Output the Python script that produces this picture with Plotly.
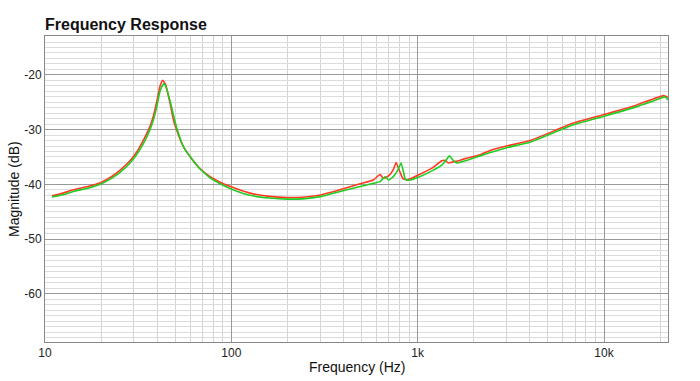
import plotly.graph_objects as go

# Red trace (frequency in Hz, magnitude in dB)
red_freq = [10.9, 12.5, 14.2, 17, 20.1, 22.5, 25.3, 28.6, 31.7, 34.5, 36.6, 38.1, 39.8, 41.4, 42.8,
            44.3, 46.9, 48.9, 50.9, 55.3, 60.0, 67.9, 76.9, 87.0, 100.5, 126, 160, 201, 250, 305,
            383, 491, 578, 628, 655, 700, 740, 766, 800, 832, 873, 910, 1009,
            1200, 1346, 1400, 1462, 1600, 1800, 2163, 2450, 3000, 4010, 6855, 10140, 15000, 20840, 22050]
red_db = [-42.1, -41.6, -41.0, -40.4, -39.6, -38.7, -37.4, -35.7, -33.6, -31.3, -29.4, -27.6, -24.9, -22.1, -21.0,
          -21.7, -25.2, -28.2, -30.1, -33.1, -34.9, -37.1, -38.6, -39.6, -40.5, -41.6, -42.2, -42.4, -42.3, -41.9,
          -41.0, -39.9, -39.2, -38.2, -38.9, -38.4, -37.3, -36.0, -37.6, -38.9, -39.2, -39.0, -38.3,
          -37.0, -35.7, -35.6, -36.1, -35.8, -35.3, -34.6, -33.8, -33.0, -32.0, -28.8, -27.2, -25.5, -23.8, -24.1]

# Green trace
green_freq = [10.9, 12.5, 14.2, 17, 20.1, 22.5, 25.3, 28.6, 31.7, 34.5, 36.6, 38.1, 39.8, 41.4, 42.8,
              43.6, 45.0, 47.4, 49.5, 51.5, 55.3, 60.0, 67.9, 76.9, 87.0, 100.5, 126, 160, 201, 250, 305,
              383, 491, 578, 628, 668, 697, 740, 780, 815, 840, 855, 873, 910, 1009,
              1200, 1346, 1420, 1480, 1550, 1622, 1800, 2163, 2450, 3000, 4010, 6855, 10140, 15000, 20840, 21300, 22050]
green_db = [-42.3, -41.9, -41.3, -40.7, -39.9, -39.0, -37.8, -36.1, -34.1, -31.9, -30.0, -28.3, -25.8, -23.0, -21.9,
            -21.6, -22.6, -25.4, -28.1, -30.2, -33.1, -34.9, -37.2, -38.8, -39.9, -40.9, -42.0, -42.5, -42.7, -42.6, -42.2,
            -41.3, -40.4, -39.8, -39.5, -38.6, -39.2, -38.6, -37.5, -36.1, -37.8, -38.9, -39.2, -39.2, -38.7,
            -37.5, -36.5, -35.6, -34.8, -35.6, -36.1, -35.7, -34.8, -34.2, -33.3, -32.3, -29.1, -27.5, -25.8, -24.1, -24.0, -24.6]

x_tickvals = [10, 100, 1000, 10000]
x_ticktext = ["10", "100", "1k", "10k"]
y_tickvals = [-20, -30, -40, -50, -60]
y_ticktext = ["-20", "-30", "-40", "-50", "-60"]

x_minor = [m * 10 ** d for d in range(1, 5) for m in range(2, 10) if m * 10 ** d <= 22050]

fig = go.Figure()
fig.add_trace(go.Scatter(x=red_freq, y=red_db, mode="lines",
                         line=dict(color="#ff3a22", width=1.6, shape="spline", smoothing=0.4),
                         showlegend=False, hoverinfo="skip"))
fig.add_trace(go.Scatter(x=green_freq, y=green_db, mode="lines",
                         line=dict(color="#22cc22", width=1.6, shape="spline", smoothing=0.4),
                         showlegend=False, hoverinfo="skip"))

font_family = "Liberation Sans, Arial, sans-serif"
L, R, T, B = 45, 32, 36, 39
plot_w = 700 - L - R
plot_h = 381 - T - B

fig.update_layout(
    width=700, height=381,
    margin=dict(l=L, r=R, t=T, b=B, autoexpand=False),
    paper_bgcolor="white", plot_bgcolor="white",
    font=dict(family=font_family, size=12, color="#222"),
    title=dict(text="<b>Frequency Response</b>", x=45 / 700, xanchor="left",
               y=1 - 24 / 381, yanchor="middle", yref="container",
               font=dict(size=16, color="#111", family=font_family)),
    xaxis=dict(
        type="log", range=[1, 4.3434], automargin=False,
        tickmode="array", tickvals=x_tickvals, ticktext=x_ticktext,
        showgrid=True, gridcolor="#999", gridwidth=1,
        minor=dict(tickmode="array", tickvals=x_minor, showgrid=True, gridcolor="#d4d4d4", gridwidth=1),
        showline=True, linecolor="#888", linewidth=1, mirror=True,
        ticks="", zeroline=False,
        tickfont=dict(size=12, color="#222"),
    ),
    yaxis=dict(
        range=[-68.8, -12.9], automargin=False,
        tickmode="array", tickvals=y_tickvals, ticktext=y_ticktext,
        showgrid=True, gridcolor="#999", gridwidth=1,
        minor=dict(tickmode="linear", tick0=0, dtick=1, showgrid=True, gridcolor="#dcdcdc", gridwidth=1),
        showline=True, linecolor="#888", linewidth=1, mirror=True,
        ticks="", zeroline=False,
        tickfont=dict(size=12, color="#222"),
    ),
    annotations=[
        dict(text="Frequency (Hz)", xref="paper", yref="paper",
             x=0.5, y=(342 - 367) / plot_h, xanchor="center", yanchor="middle",
             showarrow=False, font=dict(size=14, color="#111")),
        dict(text="Magnitude (dB)", xref="paper", yref="paper",
             x=(14 - L) / plot_w, y=0.5, xanchor="center", yanchor="middle",
             textangle=-90, showarrow=False, font=dict(size=14, color="#111")),
    ],
)

fig.write_html("out.html", config={"displayModeBar": False},
               post_script="document.body.style.margin='0';document.body.style.overflow='hidden';")
